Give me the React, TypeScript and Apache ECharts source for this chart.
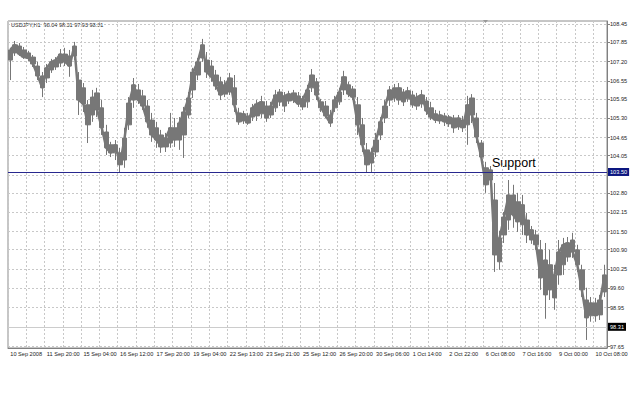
import { useEffect, useRef } from "react";
import * as echarts from "echarts";

// USDJPY H1, 10 Sep - 10 Oct 2008, grouped in 4-hour bins: [open, close, low, high]
const candles: number[][] = [
  [107.25, 107.59, 106.58, 107.66], [107.49, 107.76, 107.39, 107.89], [107.72, 107.45, 107.39, 107.82],
  [107.59, 107.35, 107.29, 107.69], [107.49, 107.32, 107.22, 107.56], [107.35, 107.12, 107.02, 107.42],
  [107.05, 106.72, 106.58, 107.19], [106.72, 106.32, 106.01, 106.85], [106.65, 106.99, 106.48, 107.12],
  [106.92, 107.19, 106.82, 107.29], [107.02, 107.25, 106.92, 107.35], [107.15, 107.45, 107.02, 107.62],
  [107.45, 107.19, 107.05, 107.66], [107.39, 107.05, 106.69, 107.59], [107.39, 107.72, 107.25, 107.86],
  [106.58, 105.91, 105.41, 106.85], [106.32, 105.78, 105.51, 106.48], [105.75, 105.08, 104.47, 105.91],
  [105.41, 106.01, 105.18, 106.25], [106.15, 105.58, 105.34, 106.32], [105.65, 104.98, 104.74, 105.91],
  [104.84, 104.31, 104.07, 105.08], [104.41, 104.14, 104.0, 104.51], [104.14, 104.41, 103.9, 104.57],
  [104.14, 103.74, 103.47, 104.31], [103.9, 104.64, 103.64, 104.98], [105.08, 105.81, 104.91, 106.01],
  [105.91, 106.42, 105.65, 106.65], [106.25, 105.91, 105.78, 106.45], [106.05, 105.71, 105.58, 106.25],
  [105.71, 105.18, 104.98, 105.91], [105.24, 104.74, 104.51, 105.48], [104.98, 104.57, 104.31, 105.18],
  [104.74, 104.34, 104.14, 104.91], [104.34, 104.64, 104.17, 104.81], [104.47, 104.98, 104.31, 105.48],
  [104.98, 104.57, 104.34, 105.31], [104.57, 105.14, 104.24, 105.34], [104.74, 105.51, 103.97, 105.68],
  [105.41, 105.98, 105.31, 106.18], [106.25, 106.85, 105.98, 106.99], [106.75, 107.19, 106.58, 107.32],
  [107.32, 107.76, 107.19, 107.96], [107.25, 106.85, 106.65, 107.52], [107.05, 106.69, 106.52, 107.25],
  [106.75, 106.38, 106.25, 106.92], [106.52, 106.08, 105.91, 106.69], [106.11, 106.42, 106.01, 106.58],
  [106.18, 106.65, 106.08, 106.82], [106.32, 105.75, 105.51, 106.75], [105.48, 105.18, 105.08, 105.65],
  [105.21, 105.45, 105.11, 105.55], [105.38, 105.14, 105.08, 105.48], [105.34, 105.65, 105.21, 105.78],
  [105.38, 105.78, 105.21, 105.91], [105.45, 105.85, 105.31, 106.05], [105.71, 105.31, 105.18, 105.88],
  [105.41, 105.71, 105.31, 105.85], [105.65, 106.08, 105.51, 106.25], [106.18, 105.85, 105.71, 106.28],
  [105.71, 106.05, 105.51, 106.18], [105.88, 106.11, 105.78, 106.22], [106.15, 105.91, 105.81, 106.25],
  [106.05, 105.78, 105.68, 106.18], [105.68, 105.95, 105.58, 106.05], [105.85, 106.25, 105.65, 106.42],
  [106.32, 106.75, 106.18, 106.95], [106.52, 106.08, 105.91, 106.65], [105.85, 105.65, 105.51, 105.95],
  [105.71, 105.38, 105.31, 105.88], [105.41, 105.14, 105.01, 105.58], [105.65, 105.91, 105.51, 106.05],
  [105.85, 106.18, 105.75, 106.32], [106.25, 106.69, 106.08, 106.89], [106.42, 106.11, 106.01, 106.52],
  [106.28, 106.01, 105.91, 106.38], [105.75, 105.08, 104.74, 106.01], [105.08, 104.41, 104.17, 105.31],
  [104.24, 103.74, 103.47, 104.47], [103.8, 104.14, 103.5, 104.31], [104.17, 104.57, 104.0, 104.81],
  [104.74, 105.18, 104.57, 105.34], [105.31, 105.71, 105.14, 105.91], [105.91, 106.25, 105.71, 106.38],
  [106.32, 105.98, 105.85, 106.45], [105.91, 106.32, 105.75, 106.48], [106.18, 105.85, 105.71, 106.28],
  [105.95, 106.22, 105.85, 106.35], [106.08, 105.75, 105.65, 106.22], [105.71, 106.01, 105.58, 106.15],
  [105.78, 106.08, 105.65, 106.25], [105.88, 105.55, 105.41, 106.01], [105.65, 105.34, 105.24, 105.85],
  [105.45, 105.24, 105.14, 105.58], [105.21, 105.41, 105.11, 105.55], [105.38, 105.18, 105.04, 105.48],
  [105.11, 105.34, 105.01, 105.41], [105.31, 104.98, 104.81, 105.41], [105.01, 105.31, 104.91, 105.41],
  [105.24, 104.98, 104.84, 105.38], [105.08, 105.75, 104.41, 106.05], [105.98, 105.41, 105.14, 106.11],
  [105.31, 104.67, 104.47, 105.48], [104.47, 104.0, 103.84, 104.57], [103.64, 103.07, 102.8, 103.84],
  [103.23, 103.57, 103.1, 103.7], [102.56, 100.72, 100.15, 103.13], [100.49, 101.29, 100.22, 101.53],
  [101.39, 101.99, 101.12, 102.16], [101.89, 102.73, 101.56, 103.23], [102.73, 102.06, 101.63, 103.07],
  [102.5, 101.83, 101.49, 102.8], [101.73, 102.4, 101.39, 102.73], [101.89, 101.39, 101.12, 102.13],
  [101.22, 101.56, 101.09, 101.69], [101.39, 101.06, 100.89, 101.56], [100.89, 99.95, 99.55, 101.22],
  [99.38, 100.55, 98.58, 101.12], [100.39, 99.55, 99.21, 100.89], [99.28, 100.05, 98.88, 100.39],
  [100.05, 100.82, 99.72, 101.22], [100.39, 101.06, 100.05, 101.29], [100.65, 101.12, 100.49, 101.32],
  [101.22, 100.82, 100.62, 101.46], [100.89, 100.39, 100.15, 101.06], [100.22, 99.55, 99.31, 100.39],
  [99.21, 98.61, 97.87, 99.62], [98.68, 99.11, 98.48, 99.31], [99.11, 98.68, 98.48, 99.28],
  [98.71, 99.21, 98.54, 99.38], [99.48, 100.05, 99.31, 100.39],
];

// one labelled tick every 8 bins (32 hourly bars)
const tickLabels = [
  "10 Sep 2008", "11 Sep 20:00", "15 Sep 04:00", "16 Sep 12:00", "17 Sep 20:00", "19 Sep 04:00",
  "22 Sep 13:00", "23 Sep 21:00", "25 Sep 12:00", "26 Sep 20:00", "30 Sep 06:00", "1 Oct 14:00",
  "2 Oct 22:00", "6 Oct 08:00", "7 Oct 16:00", "9 Oct 00:00", "10 Oct 08:00",
];

const gridValues = [
  97.65, 98.3, 98.95, 99.6, 100.25, 100.9, 101.5, 102.15, 102.8, 103.4, 104.05, 104.65,
  105.3, 105.95, 106.55, 107.2, 107.85, 108.45,
];
// 98.30 and 103.40 sit under the price boxes
const priceLabels = gridValues.filter((v) => v !== 98.3 && v !== 103.4);

const supportLevel = 103.5;
const lastPrice = 98.31;
const header = "USDJPY,H1  98.04 98.31 97.93 98.31";

const FONT = "Liberation Sans, Arial, sans-serif";
const GRAY = "#777777";

export default function App() {
  const ref = useRef<HTMLDivElement>(null);

  useEffect(() => {
    const chart = echarts.init(ref.current!, null, { renderer: "svg" });
    const categories = candles.map((_, i) => (i % 8 === 0 ? tickLabels[i / 8] ?? "" : ""));
    const closes = candles.map((c) => c[1]);

    chart.setOption({
      animation: false,
      backgroundColor: "#fff",
      textStyle: { fontFamily: FONT },
      grid: {
        left: 8, right: 33, top: 21, bottom: 52,
        show: true, borderColor: "#8c8c8c", borderWidth: 1,
      },
      xAxis: {
        type: "category",
        data: categories,
        boundaryGap: true,
        axisLine: { lineStyle: { color: "#808080" } },
        axisTick: { interval: 7, length: 3, lineStyle: { color: "#808080" } },
        axisLabel: {
          interval: 7, align: "left", fontSize: 5.6, color: "#222", margin: 3, fontFamily: FONT,
        },
        splitLine: { show: true, interval: 3, lineStyle: { color: "#c8c8c8", type: [2, 2] } },
      },
      yAxis: {
        type: "value",
        position: "right",
        min: 97.6,
        max: 108.56,
        axisLine: { show: true, lineStyle: { color: "#808080" } },
        axisTick: { show: true, length: 3, customValues: gridValues, lineStyle: { color: "#808080" } },
        axisLabel: {
          customValues: priceLabels,
          formatter: (v: number) => v.toFixed(2),
          fontSize: 5.6, color: "#222", margin: 3, fontFamily: FONT,
        },
        splitLine: { show: true, lineStyle: { color: "#c8c8c8", type: [2, 2] } },
      },
      series: [
        {
          // joins the bins so the hourly bars read as one band
          type: "line",
          data: closes,
          symbol: "none",
          silent: true,
          lineStyle: { color: GRAY, width: 2.5 },
          z: 1,
        },
        {
          type: "candlestick",
          data: candles,
          barWidth: 5,
          z: 2,
          itemStyle: {
            color: GRAY, color0: GRAY, borderColor: GRAY, borderColor0: GRAY, borderWidth: 1,
          },
          markLine: {
            symbol: "none",
            silent: true,
            data: [
              {
                yAxis: supportLevel,
                lineStyle: { color: "#28288e", width: 1, type: "solid" },
                label: {
                  position: "end", distance: 1, formatter: supportLevel.toFixed(2),
                  color: "#fff", backgroundColor: "#0c1680", padding: [1, 2], fontSize: 5.6,
                },
              },
              {
                yAxis: lastPrice,
                lineStyle: { color: "#cccccc", width: 1, type: "solid" },
                label: {
                  position: "end", distance: 1, formatter: lastPrice.toFixed(2),
                  color: "#fff", backgroundColor: "#000", padding: [1, 2], fontSize: 5.6,
                },
              },
            ],
          },
        },
      ],
      graphic: [
        {
          type: "text", x: 11, y: 25,
          style: { text: header, fontSize: 5.5, fill: "#222", fontFamily: FONT, verticalAlign: "middle" },
        },
        {
          type: "text", x: 492, y: 162.7,
          style: { text: "Support", fontSize: 12.5, fill: "#000", fontFamily: FONT, verticalAlign: "middle" },
        },
        {
          type: "polygon",
          shape: { points: [[483, 20], [488, 20], [485.5, 23]] },
          style: { fill: "#999" },
        },
      ],
    });

    return () => chart.dispose();
  }, []);

  return (
    <div
      ref={ref}
      style={{ position: "absolute", left: 0, top: 0, width: 640, height: 400, background: "#fff" }}
    />
  );
}
